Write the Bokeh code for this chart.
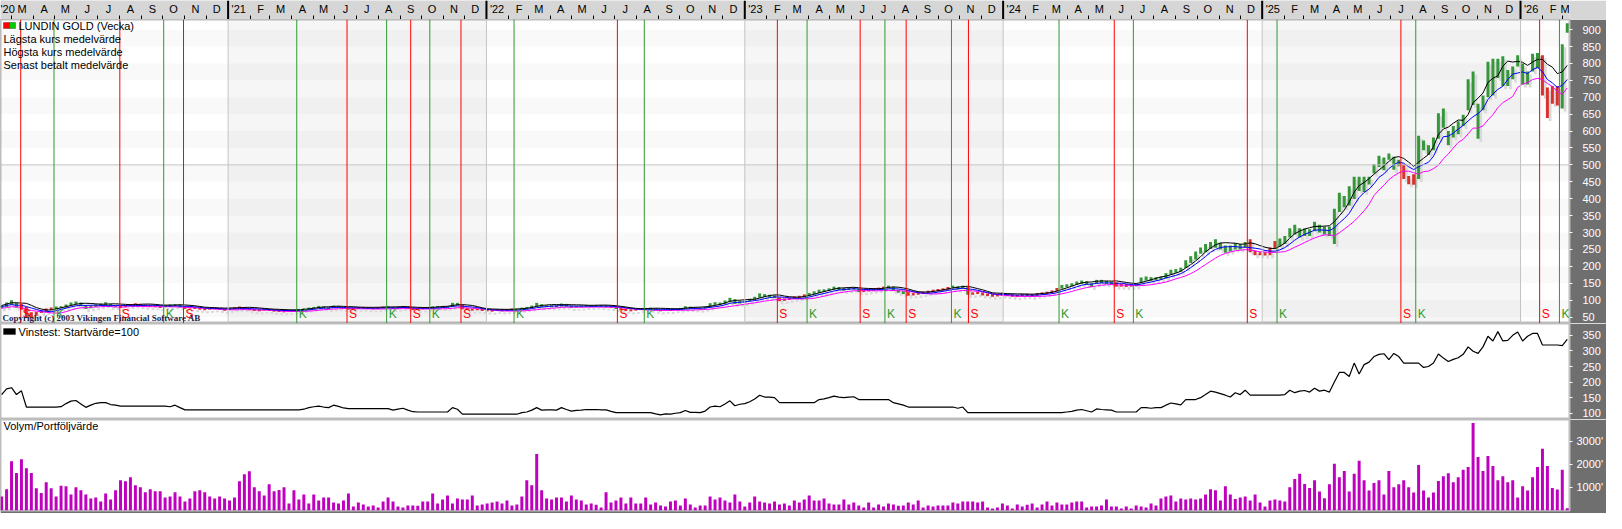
import pandas as pd
from bokeh.plotting import figure
from bokeh.models import (Range1d, FixedTicker, Span, BoxAnnotation, Label,
                          CustomJSTickFormatter, ColumnDataSource, DatetimeAxis)
from bokeh.transform import dodge
from bokeh.layouts import column
from bokeh.embed import file_html
from bokeh.resources import INLINE
from bokeh.core.properties import value

# ---------------- data ----------------
FIRST_WEEK = "2020-02-16"
X_START = "2020-02-14 10:00"
X_END = "2026-03-11 05:00"

close_2020 = [80, 89, 91, 80, 86, 60, 55, 63, 68, 72, 76, 78, 79, 85, 90, 92, 84, 77, 82, 86, 87, 87, 83, 82, 80,
              84, 86, 88, 85, 83, 84, 82, 80, 84, 83, 86, 81, 76, 79, 77, 75, 73, 75, 76, 74, 72]
high_2020 = [84, 93, 100, 92, 88, 80, 64, 66, 71, 75, 78, 81, 82, 87, 93, 96, 93, 85, 84, 88, 90, 94, 89, 85, 84,
             86, 89, 91, 89, 87, 86, 85, 83, 86, 87, 88, 87, 81, 81, 80, 78, 76, 77, 78, 77, 75]
low_2020 = [76, 80, 86, 78, 72, 48, 47, 54, 62, 66, 71, 74, 76, 78, 84, 88, 82, 74, 76, 80, 83, 85, 81, 79, 77,
            79, 83, 84, 83, 81, 80, 79, 77, 79, 80, 82, 79, 74, 75, 74, 72, 70, 72, 73, 71, 69]

close_2021 = [74, 76, 78, 76, 73, 71, 70, 72, 71, 69, 68, 67, 69, 70, 72, 73, 76, 78, 80, 78, 76, 82, 79, 76, 75, 76,
              77, 78, 76, 75, 77, 79, 80, 76, 78, 80, 76, 73, 74, 76, 78, 80, 81, 80, 80, 90, 87, 75, 74, 72, 73, 71]
high_2021 = [77, 79, 81, 80, 77, 74, 73, 74, 74, 72, 71, 70, 71, 72, 74, 76, 78, 80, 83, 82, 79, 84, 83, 80, 78, 78,
             79, 80, 79, 78, 79, 81, 82, 80, 80, 82, 80, 76, 76, 78, 80, 82, 83, 83, 82, 92, 92, 86, 77, 75, 75, 74]
low_2021 = [71, 73, 75, 73, 70, 68, 67, 69, 68, 66, 65, 64, 66, 67, 69, 71, 72, 75, 77, 76, 74, 76, 77, 74, 72, 73,
            74, 75, 74, 73, 74, 76, 77, 74, 75, 77, 74, 71, 71, 73, 75, 77, 78, 77, 77, 80, 84, 73, 71, 69, 70, 68]

close_2022 = [70, 69, 71, 70, 71, 72, 72, 76, 77, 82, 88, 82, 82, 82, 82, 88, 83, 79, 81, 82, 83, 83, 84, 82, 82, 79,
              76, 74, 72, 70, 72, 74, 75, 75, 72, 70, 72, 71, 74, 75, 80, 76, 76, 75, 79, 88, 90, 89, 96, 103, 91, 95]
high_2022 = [73, 72, 73, 73, 73, 75, 75, 78, 80, 84, 92, 88, 85, 85, 85, 90, 89, 84, 83, 84, 86, 86, 86, 85, 84, 83,
             80, 77, 75, 73, 74, 76, 77, 78, 76, 73, 74, 74, 76, 77, 82, 81, 79, 78, 81, 91, 94, 93, 99, 107, 103, 98]
low_2022 = [67, 66, 68, 67, 68, 69, 69, 72, 74, 76, 81, 79, 79, 79, 79, 81, 81, 77, 78, 79, 80, 80, 81, 80, 79, 77,
            74, 71, 69, 67, 69, 71, 72, 72, 69, 67, 69, 68, 71, 72, 74, 74, 73, 72, 75, 78, 86, 86, 88, 94, 89, 90]

close_2023 = [96, 101, 107, 116, 112, 112, 110, 99, 102, 105, 108, 110, 114, 118, 122, 127, 128, 132, 136, 134, 132,
              134, 135, 127, 128, 130, 132, 134, 137, 140, 130, 126, 122, 117, 118, 120, 122, 125, 128, 130, 132, 136,
              140, 135, 140, 119, 120, 122, 118, 116, 114, 115]
high_2023 = [99, 104, 110, 120, 118, 116, 114, 108, 105, 108, 111, 113, 117, 121, 126, 131, 132, 135, 140, 139, 136,
             137, 138, 134, 131, 133, 135, 137, 140, 143, 140, 131, 127, 124, 121, 123, 125, 128, 131, 133, 135, 139,
             143, 141, 143, 139, 123, 125, 123, 120, 118, 118]
low_2023 = [92, 96, 101, 107, 109, 108, 106, 97, 98, 101, 104, 106, 109, 113, 117, 121, 124, 127, 131, 130, 128,
            130, 131, 124, 124, 126, 128, 130, 133, 135, 127, 122, 118, 113, 114, 116, 118, 121, 124, 126, 128, 131,
            135, 132, 134, 116, 116, 118, 114, 112, 110, 111]

close_2024 = [118, 116, 114, 113, 115, 116, 114, 118, 120, 122, 126, 132, 140, 143, 146, 151, 154, 148, 143, 156, 154,
              152, 151, 143, 145, 143, 144, 145, 164, 164, 162, 164, 165, 176, 185, 188, 192, 212, 224, 238, 250, 258,
              268, 262, 258, 250, 252, 262, 255, 265, 248, 240, 238]
high_2024 = [122, 119, 118, 116, 118, 119, 118, 121, 123, 125, 129, 136, 145, 147, 150, 155, 158, 156, 150, 160, 160,
             157, 155, 153, 149, 148, 147, 149, 167, 170, 168, 168, 170, 180, 190, 192, 196, 218, 230, 244, 256, 266,
             272, 280, 270, 262, 262, 268, 266, 272, 280, 247, 242]
low_2024 = [113, 112, 110, 109, 111, 112, 110, 113, 116, 118, 121, 126, 134, 138, 141, 145, 148, 145, 139, 148, 150,
            148, 146, 140, 140, 139, 140, 141, 150, 158, 157, 159, 160, 164, 175, 181, 184, 195, 210, 220, 237, 242,
            251, 255, 250, 240, 244, 250, 250, 255, 242, 233, 233]

close_2025 = [236, 245, 262, 272, 280, 300, 305, 303, 308, 306, 320, 305, 300, 296, 355, 395, 395, 400, 445, 430, 445,
              455, 490, 515, 505, 525, 510, 505, 470, 452, 455, 575, 550, 545, 575, 640, 615, 585, 605, 615, 640, 720,
              690, 640, 690, 780, 740, 800, 745, 760, 785, 800]
high_2025 = [242, 256, 275, 282, 290, 313, 323, 313, 312, 310, 332, 323, 318, 318, 370, 418, 408, 437, 465, 465, 465,
             465, 503, 527, 522, 534, 524, 515, 501, 467, 472, 586, 572, 558, 581, 653, 667, 600, 615, 629, 648, 753,
             776, 681, 705, 805, 814, 814, 821, 781, 791, 824]
low_2025 = [232, 233, 252, 258, 266, 285, 294, 285, 290, 290, 304, 300, 294, 290, 266, 361, 375, 380, 399, 423, 420,
            442, 475, 494, 484, 515, 486, 496, 458, 443, 441, 458, 543, 529, 543, 577, 610, 558, 581, 591, 615, 662,
            677, 577, 662, 700, 705, 757, 733, 733, 753, 791]

close_2026 = [760, 770, 815, 800, 710, 660, 700, 690, 850, 905]
high_2026 = [800, 776, 829, 831, 824, 729, 733, 733, 857, 919]
low_2026 = [738, 738, 776, 786, 705, 639, 681, 676, 667, 891]

# weekly volume, thousands of shares
volume = [609, 913, 2130, 1623, 2217, 1826, 1623, 957, 754, 1217, 957, 609, 1072, 1043, 696, 1000, 870, 696, 522,
          565, 391, 739, 478, 870, 1304, 1261, 1435, 1087, 1000, 783, 913, 826, 826, 565, 609, 783, 600, 391, 522,
          826, 870, 783, 609, 520, 609, 522, 435, 565, 1261, 1565, 1696, 1000, 826, 652, 1130, 826, 884, 1000, 304,
          870, 478, 696, 304, 696, 435, 565, 565, 348, 300, 435, 739, 174, 348, 261, 174, 217, 130, 391, 565, 391,
          174, 130, 217, 217, 200, 391, 391, 739, 304, 478, 652, 304, 522, 478, 478, 652, 217, 261, 304, 350, 391,
          304, 435, 217, 261, 609, 1304, 1087, 2435, 870, 522, 478, 565, 565, 391, 652, 478, 435, 261, 304, 250,
          130, 783, 348, 435, 565, 304, 565, 304, 304,
          565, 261, 348, 217, 174, 391, 435, 217, 522, 261, 130, 217, 217, 609, 478, 565, 435, 348, 696, 391, 174,
          348, 609, 391, 348, 300, 391, 261, 304, 217, 435, 348, 478, 652, 435, 435, 522, 304, 261, 261, 478, 261,
          348, 217, 130, 348, 130, 261, 174, 304, 261, 200, 217, 348, 261, 435, 130, 217, 174, 217, 217, 217, 348,
          304, 391, 391, 391, 348, 391, 130, 87, 130, 304, 217, 87, 261, 174, 250, 304, 130, 261, 391, 217, 348,
          261, 261, 348, 391, 391, 130, 174, 174, 217, 478, 174, 174, 87, 174, 87, 217, 174, 130, 304, 220, 522,
          609, 652, 391, 522, 478, 522, 478, 522, 696, 913, 870, 435, 1043, 696, 500, 565, 609, 435, 696, 348, 174,
          435, 478, 435, 391,
          1000, 1365, 1584, 1146, 971, 1307, 825, 533, 1131, 2022, 1438, 1701, 825, 1584, 2153, 1307, 869, 1190,
          1307, 693, 1701, 1000, 1131, 1307, 1000, 781, 1964, 869, 562, 781, 1270, 1482, 1613, 1219, 1438, 1759,
          1876, 3774, 2314, 1701, 2358, 1920, 1307, 1482, 1219, 1307, 562, 1044, 869, 1438, 1876, 2664, 1920, 971,
          912, 1759, 95]

# Vinstest (equity test, start value 100)
vinstest = ([160, 178, 182, 160, 172, 120, 120, 120, 120, 120, 120, 120, 121, 131, 139, 141, 130, 119, 126, 132,
             134, 134, 128, 126, 123] + [123] * 9 + [121, 126, 118, 111] + [111] * 23
            + [113, 118, 121, 123, 120, 118, 126, 122, 117, 115] + [115] * 8 + [110, 113, 116, 110, 105] + [104] * 7
            + [118, 113, 97] + [97] * 11
            + [102, 104, 110, 118, 110, 111, 111, 110, 118, 112, 107, 109, 110, 112, 112, 112, 111, 111, 106, 102]
            + [102] * 7
            + [98, 95, 98, 97, 100, 102, 109, 103, 103, 102, 107, 120, 123, 121, 130, 140, 124, 129, 131, 137, 146,
               158, 152, 152, 150, 134] + [134] * 7 + [144, 146, 150, 155, 152, 150, 152, 153, 144] + [144] * 6
            + [134, 130, 126, 120] + [120] * 9 + [116, 120, 102] + [102] * 19
            + [104, 106, 110, 112, 108, 104, 114, 112, 111, 110, 104] + [104] * 4
            + [118, 118, 116, 118, 118, 126, 133, 130, 127, 144, 144, 144, 150, 160, 171, 168, 163, 158, 152, 166,
               160, 174, 158] + [158] * 6
            + [160, 174, 166, 171, 173, 168, 180, 171, 174, 168, 200, 231, 231, 218, 261, 226, 256, 264, 282, 289,
               291, 272, 292, 282, 261, 261, 261, 261, 247, 250, 261, 290, 277, 266, 273, 278, 289, 313, 299, 292,
               313, 347, 332, 362, 332, 334, 350, 361, 332, 347, 356, 356, 319, 319, 319, 319, 317, 337])

sell_dates = ["2020-03-14", "2020-08-01", "2020-10-30", "2021-06-18", "2021-09-16", "2021-11-26", "2022-07-05",
              "2023-02-16", "2023-06-13", "2023-08-17", "2023-11-13", "2024-06-06", "2024-12-11", "2025-07-16",
              "2026-01-28"]
buy_dates = ["2020-04-30", "2020-10-02", "2021-04-08", "2021-08-13", "2021-10-13", "2022-02-09", "2022-08-12",
             "2023-03-30", "2023-07-18", "2023-10-20", "2024-03-20", "2024-07-03", "2025-01-22", "2025-08-06",
             "2026-02-25"]

price_ticks = [50, 100, 150, 200, 250, 300, 350, 400, 450, 500, 550, 600, 650, 700, 750, 800, 850, 900]
vin_ticks = [100, 150, 200, 250, 300, 350]
vol_ticks = [1000, 2000, 3000]
year_starts = ["2021-01-01", "2022-01-01", "2023-01-01", "2024-01-01", "2025-01-01", "2026-01-01"]
shaded_years = [("2021-01-01", "2022-01-01"), ("2023-01-01", "2024-01-01"), ("2025-01-01", "2026-01-01")]

legend_lines = ["Lägsta kurs medelvärde", "Högsta kurs medelvärde", "Senast betalt medelvärde"]

# ---------------- derived ----------------
close = close_2020 + close_2021 + close_2022 + close_2023 + close_2024 + close_2025 + close_2026
high = high_2020 + high_2021 + high_2022 + high_2023 + high_2024 + high_2025 + high_2026
low = low_2020 + low_2021 + low_2022 + low_2023 + low_2024 + low_2025 + low_2026
N = len(close)
assert len(high) == N and len(low) == N, (len(high), len(low), N)
assert len(volume) == N, len(volume)
assert len(vinstest) == N, len(vinstest)

dates = pd.date_range(FIRST_WEEK, periods=N, freq="7D")
WEEK = 7 * 24 * 3600 * 1000.0


def ms(s):
    return pd.Timestamp(s).value / 1e6


GREEN = "#36963a"
RED = "#d8312f"
SIGGREEN = "#2f9a2f"
SIGRED = "#ff0000"
SHADOW = "#d9d9d9"
VOLC = "#bf00bf"
STRIP = "#6f6f6f"
BAND = "#d6d6d6"

signals = sorted([(pd.Timestamp(d), "S") for d in sell_dates] + [(pd.Timestamp(d), "K") for d in buy_dates])
state, j, colors = "K", 0, []
for d in dates:
    while j < len(signals) and signals[j][0] <= d:
        state = signals[j][1]
        j += 1
    colors.append(GREEN if state == "K" else RED)

src = ColumnDataSource(dict(
    x=dates, high=high, low=low, close=close, color=colors, vol=volume, vin=vinstest,
    mah=pd.Series(high).rolling(5, min_periods=1).mean(),
    mac=pd.Series(close).rolling(6, min_periods=1).mean(),
    mal=pd.Series(low).rolling(8, min_periods=1).mean(),
))

W = 1606
RB = 34
xr = Range1d(start=pd.Timestamp(X_START), end=pd.Timestamp(X_END))
FONT = "Liberation Sans"


def base(height, y_range, bottom=0):
    p = figure(width=W, height=height, x_range=xr, y_range=y_range, x_axis_type="datetime",
               x_axis_location=None, y_axis_location="right", toolbar_location=None, output_backend="svg",
               min_border_left=0, min_border_right=RB, min_border_top=0, min_border_bottom=bottom,
               border_fill_color=STRIP, background_fill_color="white",
               outline_line_color="#bdbdbd", outline_line_width=2)
    p.xgrid.visible = False
    p.ygrid.grid_line_color = None
    return p


def style_right(p, ticks, standoff, fmt=None):
    ax = p.yaxis[0]
    ax.ticker = FixedTicker(ticks=ticks)
    ax.axis_line_color = None
    ax.major_tick_line_color = "white"
    ax.major_tick_out = 3
    ax.major_tick_in = 0
    ax.minor_tick_line_color = None
    ax.major_label_text_color = "white"
    ax.major_label_text_font = FONT
    ax.major_label_text_font_size = "11px"
    ax.major_label_standoff = standoff
    if fmt is not None:
        ax.formatter = fmt


# ---------------- top month band ----------------
month_starts = pd.date_range("2020-03-01", "2026-03-01", freq="MS")
mid_ticks = [ms("2020-02-23")] + [ms(d + pd.Timedelta(days=15)) for d in month_starts[:-1]] + [ms("2026-03-05")]
minor_ticks = [ms(d) for d in month_starts]

p0 = figure(width=W, height=19, x_range=xr, y_range=Range1d(0, 1), x_axis_type="datetime",
            x_axis_location=None, y_axis_location=None, toolbar_location=None, output_backend="svg",
            min_border_left=0, min_border_right=RB, min_border_top=0, min_border_bottom=0,
            border_fill_color=BAND, background_fill_color=BAND, outline_line_color=None)
p0.grid.visible = False
lab_ax = DatetimeAxis(fixed_location=1, ticker=FixedTicker(ticks=mid_ticks),
                      formatter=CustomJSTickFormatter(args=dict(first=mid_ticks[0]), code="""
const d = new Date(tick);
const m = d.getUTCMonth();
const y = d.getUTCFullYear();
if (m === 0 || tick === first) { return "'" + String(y).slice(2); }
return "JFMAMJJASOND".charAt(m);
"""))
lab_ax.axis_line_color = None
lab_ax.major_tick_line_color = None
lab_ax.minor_tick_line_color = None
lab_ax.major_tick_out = 0
lab_ax.major_tick_in = 0
lab_ax.minor_tick_out = 0
lab_ax.major_label_standoff = 2
lab_ax.major_label_text_font = FONT
lab_ax.major_label_text_font_size = "11px"
lab_ax.major_label_text_color = "black"
p0.add_layout(lab_ax, "below")
tick_ax = DatetimeAxis(fixed_location=0, ticker=FixedTicker(ticks=[], minor_ticks=minor_ticks))
tick_ax.axis_line_color = None
tick_ax.major_tick_line_color = None
tick_ax.minor_tick_in = 4
tick_ax.minor_tick_out = 0
tick_ax.minor_tick_line_color = "black"
tick_ax.major_label_text_font_size = "0px"
p0.add_layout(tick_ax, "below")
for ys in year_starts:
    p0.add_layout(Span(location=ms(ys), dimension="height", line_color="black", line_width=2))

# ---------------- main price panel ----------------
p1 = base(304, Range1d(31, 930))
style_right(p1, price_ticks, 10)
p1.ygrid.ticker = FixedTicker(ticks=price_ticks)
p1.ygrid.band_fill_color = "black"
p1.ygrid.band_fill_alpha = 0.025

for a, b in shaded_years:
    p1.add_layout(BoxAnnotation(left=ms(a), right=ms(b), fill_color="black", fill_alpha=0.035,
                                line_color=None, level="underlay"))
for ys in year_starts:
    p1.add_layout(Span(location=ms(ys), dimension="height", line_color="#c4c4c4", line_width=1))
p1.add_layout(Span(location=500, dimension="width", line_color="#c4c4c4", line_width=1))
for d in sell_dates:
    p1.add_layout(Span(location=ms(d), dimension="height", line_color=SIGRED, line_width=1))
for d in buy_dates:
    p1.add_layout(Span(location=ms(d), dimension="height", line_color=SIGGREEN, line_width=1))

p1.vbar(x=dodge("x", 0.55 * WEEK), top=dodge("high", -9), bottom=dodge("low", -9), width=0.55 * WEEK,
        fill_color=SHADOW, line_color=None, source=src)
p1.vbar(x="x", top="high", bottom="low", width=0.6 * WEEK, fill_color="color", line_color=None, source=src)
p1.line("x", "mal", color="#ff00ff", line_width=1, source=src)
p1.line("x", "mac", color="#0000ff", line_width=1, source=src)
p1.line("x", "mah", color="black", line_width=1, source=src)

sig_x = [ms(d) for d in sell_dates] + [ms(d) for d in buy_dates]
sig_src = ColumnDataSource(dict(x=sig_x, y=[p1.y_range.start] * len(sig_x),
                                t=["S"] * len(sell_dates) + ["K"] * len(buy_dates),
                                c=[SIGRED] * len(sell_dates) + [SIGGREEN] * len(buy_dates)))
p1.text(x="x", y="y", text="t", text_color="c", text_font=value(FONT), text_font_size="12px",
        text_baseline="bottom", x_offset=2, y_offset=-3, source=sig_src)

p1.add_layout(BoxAnnotation(left=3, right=9, top=301, bottom=295, left_units="screen", right_units="screen",
                            top_units="screen", bottom_units="screen", fill_color="#ff0000", fill_alpha=1,
                            line_color="black", line_width=1))
p1.add_layout(BoxAnnotation(left=9, right=15, top=301, bottom=295, left_units="screen", right_units="screen",
                            top_units="screen", bottom_units="screen", fill_color="#00cc00", fill_alpha=1,
                            line_color="black", line_width=1))
p1.add_layout(Label(x=18, y=298, x_units="screen", y_units="screen", text="LUNDIN GOLD (Vecka)",
                    text_font=FONT, text_font_size="11px", text_baseline="middle", text_color="black"))
for k, t in enumerate(legend_lines):
    p1.add_layout(Label(x=3, y=284.5 - 13 * k, x_units="screen", y_units="screen", text=t,
                        text_font=FONT, text_font_size="11px", text_baseline="middle", text_color="black"))
p1.add_layout(Label(x=2, y=1, x_units="screen", y_units="screen",
                    text="Copyright (c) 2003 Vikingen Financial Software AB",
                    text_font="Liberation Serif", text_font_size="9px", text_baseline="bottom",
                    text_color="#1c1c48", text_font_style="bold"))

# ---------------- Vinstest panel ----------------
p2 = base(96, Range1d(80, 388))
style_right(p2, vin_ticks, 10)
p2.line("x", "vin", color="black", line_width=1.2, source=src)
p2.add_layout(BoxAnnotation(left=3, right=15, top=91, bottom=85, left_units="screen", right_units="screen",
                            top_units="screen", bottom_units="screen", fill_color="black", fill_alpha=1,
                            line_color="black"))
p2.add_layout(Label(x=18, y=88, x_units="screen", y_units="screen", text="Vinstest: Startvärde=100",
                    text_font=FONT, text_font_size="11px", text_baseline="middle", text_color="black"))

# ---------------- Volume panel ----------------
p3 = base(94, Range1d(0, 3930), bottom=3)
style_right(p3, vol_ticks, 4, CustomJSTickFormatter(code="return tick.toFixed(0) + \"'\";"))
p3.vbar(x="x", top="vol", bottom=0, width=0.6 * WEEK, fill_color=VOLC, line_color=None, source=src)
p3.add_layout(Label(x=3, y=85, x_units="screen", y_units="screen", text="Volym/Portföljvärde",
                    text_font=FONT, text_font_size="11px", text_baseline="middle", text_color="black"))

layout = column(p0, p1, p2, p3)
open("out.html", "w").write(file_html(layout, INLINE))
